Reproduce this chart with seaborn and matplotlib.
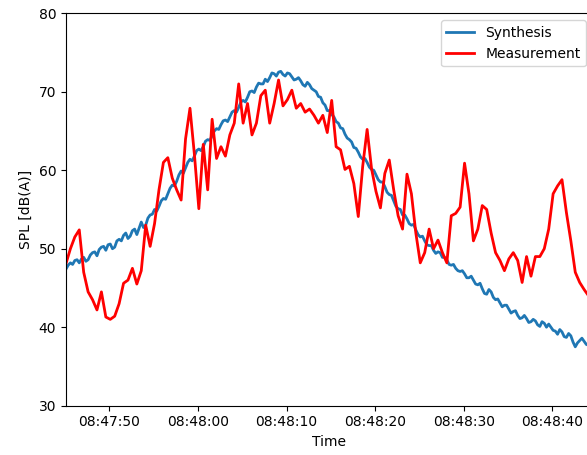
import matplotlib
matplotlib.use("Agg")
import matplotlib.dates as mdates
import matplotlib.pyplot as plt
import pandas as pd
import seaborn as sns

# both series start at 08:47:45.1; synthesis sampled every 0.25 s, measurement every 0.5 s
start_time = "2021-06-01 08:47:45.100"

synthesis = [
    47.4, 47.9, 48.2, 48.0, 48.5, 48.6, 48.2, 48.7, 48.9, 48.4,
    48.6, 49.2, 49.5, 49.6, 49.1, 49.9, 50.2, 50.3, 49.8, 50.5,
    50.6, 50.0, 50.2, 51.0, 51.2, 51.0, 51.7, 52.0, 51.3, 51.6,
    52.3, 52.5, 51.8, 52.6, 53.4, 52.7, 53.0, 53.9, 54.3, 54.4,
    55.0, 54.8, 55.4, 56.1, 56.4, 56.3, 57.0, 57.7, 58.1, 58.0,
    58.6, 59.4, 59.9, 59.6, 60.3, 61.0, 61.4, 61.2, 61.8, 62.5,
    62.7, 62.5, 63.0, 63.7, 63.9, 63.8, 64.4, 65.0, 65.3, 65.2,
    65.8, 66.3, 66.4, 66.2, 66.8, 67.4, 67.6, 67.4, 68.0, 68.7,
    68.9, 68.7, 69.3, 70.0, 70.1, 69.9, 70.6, 71.1, 71.0, 71.0,
    71.6, 71.3, 71.8, 72.4, 72.3, 72.0, 72.5, 72.6, 72.2, 72.0,
    72.4, 72.3, 71.9, 71.5, 71.6, 71.8, 71.4, 70.9, 70.7, 71.2,
    70.9, 70.4, 70.2, 70.0, 69.4, 69.3, 68.6, 68.3, 67.6, 67.6,
    67.1, 66.8, 66.2, 66.0, 65.4, 65.3, 64.6, 64.1, 63.9, 63.6,
    62.9, 62.8, 62.3, 61.7, 61.4, 61.5, 61.0, 60.4, 60.1, 60.0,
    59.4, 58.8, 58.5, 58.5, 57.9, 57.2, 56.9, 56.8, 56.1, 55.4,
    55.1, 55.0, 54.3, 54.3, 53.8, 53.2, 53.0, 53.1, 52.4, 51.8,
    51.5, 51.6, 51.0, 50.5, 50.4, 50.4, 49.8, 49.4, 49.6, 49.5,
    48.9, 48.9, 48.6, 48.0, 47.9, 48.0, 47.5, 47.2, 47.1, 47.2,
    46.8, 46.3, 46.3, 46.5, 46.0, 45.5, 45.4, 45.6, 44.9, 44.3,
    44.2, 44.8, 44.5, 43.8, 43.5, 43.6, 43.1, 42.6, 42.8, 42.8,
    42.3, 41.8, 42.0, 42.1, 41.5, 41.1, 41.2, 41.5, 41.1, 40.6,
    40.7, 41.0, 40.8, 40.3, 40.1, 40.7, 40.5, 40.0, 40.4, 40.0,
    39.6, 39.5, 39.1, 39.7, 39.4, 38.8, 38.7, 39.2, 38.9, 38.1,
    37.5, 38.0, 38.3, 38.6, 38.2, 37.8, 37.7, 38.3, 38.0,
]

measurement = [
    48.1, 50.0, 51.5, 52.4, 47.0, 44.5, 43.5, 42.2, 44.5, 41.3,
    41.0, 41.4, 43.0, 45.6, 46.0, 47.5, 45.5, 47.2, 53.0, 50.3,
    53.2, 57.5, 61.0, 61.6, 59.0, 57.5, 56.2, 64.0, 67.9, 62.0,
    55.1, 63.3, 57.5, 66.5, 61.5, 63.0, 61.8, 64.5, 66.0, 71.0,
    66.0, 68.5, 64.5, 66.0, 69.5, 70.2, 66.0, 68.5, 71.5, 68.2,
    69.0, 70.2, 67.9, 68.5, 67.4, 67.8, 67.0, 66.0, 67.0, 64.8,
    68.9, 63.0, 62.6, 60.1, 60.5, 58.3, 54.1, 60.5, 65.2, 60.2,
    57.3, 55.2, 59.6, 61.3, 57.5, 54.2, 52.5, 59.5, 57.0, 52.0,
    48.2, 49.5, 52.5, 50.0, 51.1, 49.5, 48.2, 54.2, 54.5, 55.3,
    60.9, 57.0, 51.0, 52.5, 55.5, 55.0, 52.0, 49.5, 48.5, 47.2,
    48.7, 49.5, 48.5, 45.7, 49.0, 46.5, 49.0, 49.0, 50.0, 52.5,
    57.0, 58.0, 58.8, 54.6, 51.0, 47.0, 45.7, 44.8, 44.0, 43.5,
]

y_ticks = [30, 40, 50, 60, 70, 80]

time_synth = pd.date_range(start_time, periods=len(synthesis), freq="250ms")
time_meas = pd.date_range(start_time, periods=len(measurement), freq="500ms")

fig = plt.figure(figsize=(5.87, 4.55), dpi=100)
# axes run slightly past the right edge of the image, as in the original
ax = fig.add_axes([0.1124, 0.1084, 0.8978, 0.8624])

sns.lineplot(x=time_synth, y=synthesis, ax=ax, color="#1f77b4", linewidth=2, label="Synthesis")
sns.lineplot(x=time_meas, y=measurement, ax=ax, color="red", linewidth=2, label="Measurement")

ax.set_xlim(time_meas[0], time_meas[-1])
ax.set_ylim(30, 80)
ax.set_yticks(y_ticks)
ax.xaxis.set_major_locator(mdates.SecondLocator(bysecond=range(0, 60, 10)))
ax.xaxis.set_major_formatter(mdates.DateFormatter("%H:%M:%S"))
ax.set_xlabel("Time")
ax.set_ylabel("SPL [dB(A)]")
ax.legend(loc="upper right")

fig.savefig("out.png", dpi=100)
